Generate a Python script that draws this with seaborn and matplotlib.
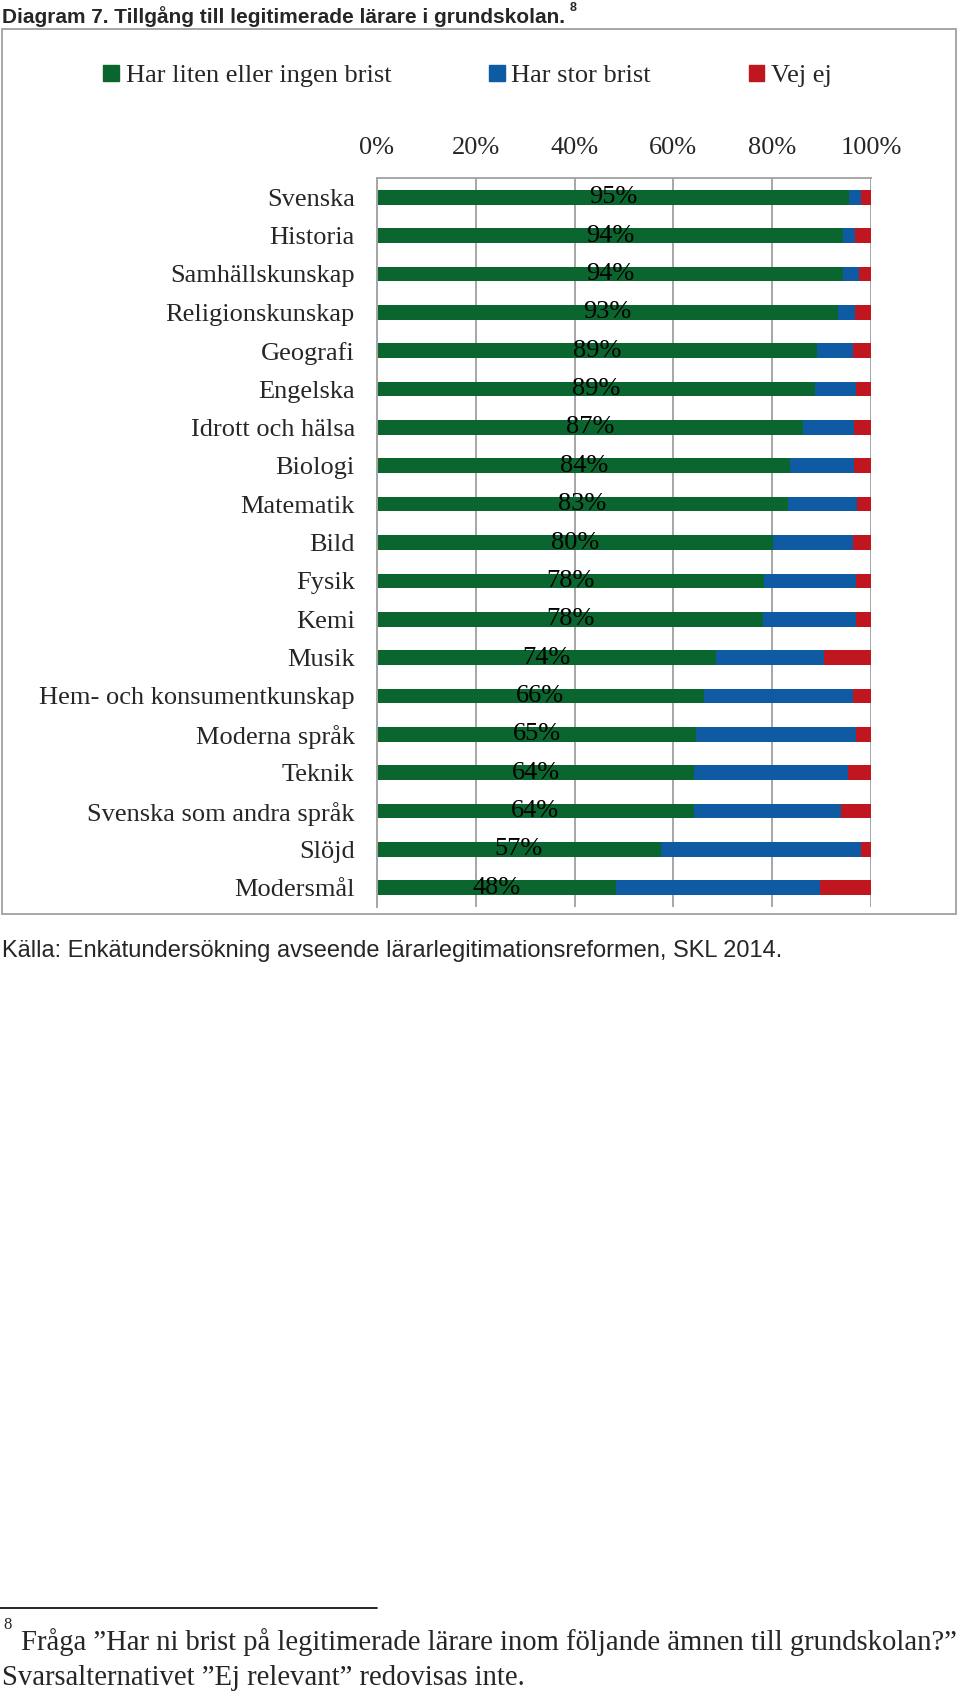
import matplotlib
matplotlib.use("Agg")
import matplotlib.pyplot as plt
import matplotlib.patches as mpatches
import matplotlib.lines as mlines
import pandas as pd
import seaborn as sns

sns.set_theme(style="white")
plt.rcParams["font.family"] = ["Liberation Serif", "DejaVu Serif"]

# === Data ===
subjects = [
    "Svenska", "Historia", "Samhällskunskap", "Religionskunskap", "Geografi",
    "Engelska", "Idrott och hälsa", "Biologi", "Matematik", "Bild", "Fysik",
    "Kemi", "Musik", "Hem- och konsumentkunskap", "Moderna språk", "Teknik",
    "Svenska som andra språk", "Slöjd", "Modersmål",
]
liten_brist = [95.6, 94.4, 94.4, 93.3, 89.1, 88.7, 86.3, 83.7, 83.1, 80.2,
               78.4, 78.2, 68.6, 66.1, 64.6, 64.2, 64.1, 57.4, 48.3]
stor_brist = [2.3, 2.3, 3.1, 3.4, 7.3, 8.3, 10.2, 12.9, 14.1, 16.2,
              18.6, 18.7, 21.8, 30.3, 32.4, 31.1, 29.9, 40.5, 41.4]
vet_ej = [2.1, 3.3, 2.5, 3.3, 3.6, 3.0, 3.5, 3.4, 2.8, 3.6,
          3.0, 3.1, 9.6, 3.6, 3.0, 4.7, 6.0, 2.1, 10.3]
# data labels as printed in the original
labels = ["95%", "94%", "94%", "93%", "89%", "89%", "87%", "84%", "83%", "80%",
          "78%", "78%", "74%", "66%", "65%", "64%", "64%", "57%", "48%"]
ticks = [0, 20, 40, 60, 80, 100]

series = ["Har liten eller ingen brist", "Har stor brist", "Vej ej"]
colors = ["#0b652e", "#0f5ba3", "#c0161f"]

df = pd.DataFrame({"Ämne": subjects, "liten": liten_brist,
                   "stor": stor_brist, "vet": vet_ej})
df["cum_stor"] = df["liten"] + df["stor"]
df["cum_vet"] = df["cum_stor"] + df["vet"]

fig = plt.figure(figsize=(9.6, 16.94), dpi=100)
ax = fig.add_axes([0.3927, 0.4646, 0.5146, 0.4303])

# stacked bars: draw cumulative totals back to front
for col, c in zip(["cum_vet", "cum_stor", "liten"], colors[::-1]):
    sns.barplot(data=df, x=col, y="Ämne", color=c, orient="h", width=0.38,
                ax=ax, saturation=1, linewidth=0)

for i, (g, lab) in enumerate(zip(liten_brist, labels)):
    ax.text(g / 2, i, lab, ha="center", va="center", fontsize=19, color="black")

ax.set_xlim(0, 100)
ax.set_ylim(len(subjects) - 0.5, -0.5)
ax.set_xticks(ticks)
ax.set_xticklabels([f"{t}%" for t in ticks], fontsize=19)
ax.xaxis.tick_top()
ax.tick_params(axis="x", length=0, pad=14)
ax.tick_params(axis="y", length=0, pad=16, labelsize=19)
ax.set_xlabel("")
ax.set_ylabel("")
ax.grid(axis="x", color="#a6a6a6", linewidth=1.4)
ax.grid(axis="y", visible=False)
ax.set_axisbelow(True)
for side in ["right", "bottom"]:
    ax.spines[side].set_visible(False)
for side in ["left", "top"]:
    ax.spines[side].set_color("#a6a6a6")
    ax.spines[side].set_linewidth(1.4)

# legend
handles = [mpatches.Patch(color=c, label=s) for c, s in zip(colors, series)]
fig.legend(handles=handles, loc="center", bbox_to_anchor=(0.487, 1 - 76 / 1694),
           ncol=3, frameon=False, fontsize=19, handlelength=0.6,
           handleheight=0.6, handletextpad=0.25, columnspacing=3.7)

# chart box
fig.patches.append(mpatches.Rectangle((2 / 960, 1 - 914 / 1694), 954 / 960,
                                      885 / 1694, transform=fig.transFigure,
                                      fill=False, edgecolor="#a6a6a6",
                                      linewidth=1.4))

# title
fig.text(0.002, 1 - 17 / 1694,
         "Diagram 7. Tillgång till legitimerade lärare i grundskolan.",
         family=["Liberation Sans", "DejaVu Sans"], weight="bold",
         fontsize=15, va="center", ha="left")
fig.text(0.593, 1 - 8 / 1694, "8",
         family=["Liberation Sans", "DejaVu Sans"], weight="bold",
         fontsize=9, va="center", ha="left")

# source
fig.text(0.002, 1 - 951 / 1694,
         "Källa: Enkätundersökning avseende lärarlegitimationsreformen, SKL 2014.",
         family=["Liberation Sans", "DejaVu Sans"], fontsize=17,
         va="center", ha="left")

# footnote
fig.add_artist(mlines.Line2D([0, 377 / 960], [1 - 1608 / 1694] * 2,
                             color="black", linewidth=1.2,
                             transform=fig.transFigure))
fig.text(0.004, 1 - 1625 / 1694, "8", fontsize=12, va="center", ha="left")
fig.text(0.022, 1 - 1642 / 1694,
         "Fråga ”Har ni brist på legitimerade lärare inom följande ämnen till grundskolan?”",
         fontsize=20.6, va="center", ha="left")
fig.text(0.002, 1 - 1678 / 1694,
         "Svarsalternativet ”Ej relevant” redovisas inte.",
         fontsize=20.6, va="center", ha="left")

fig.savefig("out.png", dpi=100)
